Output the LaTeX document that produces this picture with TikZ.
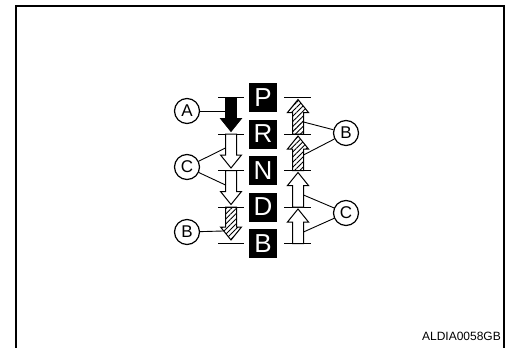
\documentclass[tikz,border=0pt]{standalone}
\usepackage{fontspec}
\setmainfont{Liberation Sans}
\usetikzlibrary{patterns.meta}
\newcommand\varr[5]{% #1 style, #2 x, #3 start y, #4 tip y, #5 sign (1 down, -1 up)
  \path[#1] (#2-5.5,#3) -- (#2-5.5,#4-#5*13) -- (#2-10.5,#4-#5*13) -- (#2,#4)
    -- (#2+10.5,#4-#5*13) -- (#2+5.5,#4-#5*13) -- (#2+5.5,#3) -- cycle;}
\begin{document}
\begin{tikzpicture}[x=1pt,y=-1pt,
  frame/.style={line width=2pt},
  tick/.style={line width=1pt},
  solidarr/.style={fill=black,draw=black,line width=0.8pt,line join=miter},
  hollowarr/.style={fill=white,draw=black,line width=1pt,line join=miter},
  hatcharr/.style={draw=black,line width=1pt,line join=miter,
    pattern={Lines[angle=45,distance=3.6pt,line width=0.9pt]}},
  gear/.style={fill=black,text=white,minimum width=28pt,minimum height=29pt,
    inner sep=0pt,font=\fontsize{26}{26}\selectfont},
  callout/.style={circle,draw,line width=1.2pt,minimum size=25pt,inner sep=0pt,
    font=\fontsize{17}{17}\selectfont},
  lead/.style={line width=0.9pt}]
\useasboundingbox (0,0) rectangle (506,348);
% frame
\draw[frame] (16,349) -- (16,6) -- (504,6) -- (504,349);
% gear letters
\node[gear] (P) at (263,97.5) {P};
\node[gear] (R) at (263,134) {R};
\node[gear] (N) at (263,170.5) {N};
\node[gear] (D) at (263,207) {D};
\node[gear] (B) at (263,243.5) {B};
% ticks
\foreach \y in {97.5,134,170.5,207,243.5}{
  \draw[tick] (218,\y) -- (244,\y);
  \draw[tick] (284,\y) -- (311,\y);
}
% left arrows (downshift)
\varr{solidarr}{231}{97.5}{131.5}{1}
\varr{hollowarr}{231}{134}{168}{1}
\varr{hollowarr}{231}{170.5}{204.5}{1}
\varr{hatcharr}{231}{207}{240}{1}
% right arrows (upshift)
\varr{hatcharr}{298}{134}{99.5}{-1}
\varr{hatcharr}{298}{170.5}{136}{-1}
\varr{hollowarr}{298}{207}{172.5}{-1}
\varr{hollowarr}{298}{243.5}{209}{-1}
% attachment points
\coordinate (a1) at (225.5,111);
\coordinate (c1) at (225.5,148);
\coordinate (c2) at (225.5,185);
\coordinate (b1) at (223,231);
\coordinate (b2) at (303.5,122);
\coordinate (b3) at (303.5,155);
\coordinate (c3) at (303.5,195);
\coordinate (c4) at (303.5,232);
% callouts
\node[callout] (cA) at (187,111) {A};
\node[callout] (cCl) at (187,167) {C};
\node[callout] (cBl) at (187,232) {B};
\node[callout] (cBr) at (346,133) {B};
\node[callout] (cCr) at (346,213) {C};
\draw[lead] (cA) -- (a1);
\draw[lead] (cCl) -- (c1);
\draw[lead] (cCl) -- (c2);
\draw[lead] (cBl) -- (b1);
\draw[lead] (cBr) -- (b2);
\draw[lead] (cBr) -- (b3);
\draw[lead] (cCr) -- (c3);
\draw[lead] (cCr) -- (c4);
% label
\node[anchor=east,inner sep=0pt,font=\fontsize{12}{12}\selectfont] (lbl) at (501,336) {ALDIA0058GB};
\end{tikzpicture}
\end{document}
